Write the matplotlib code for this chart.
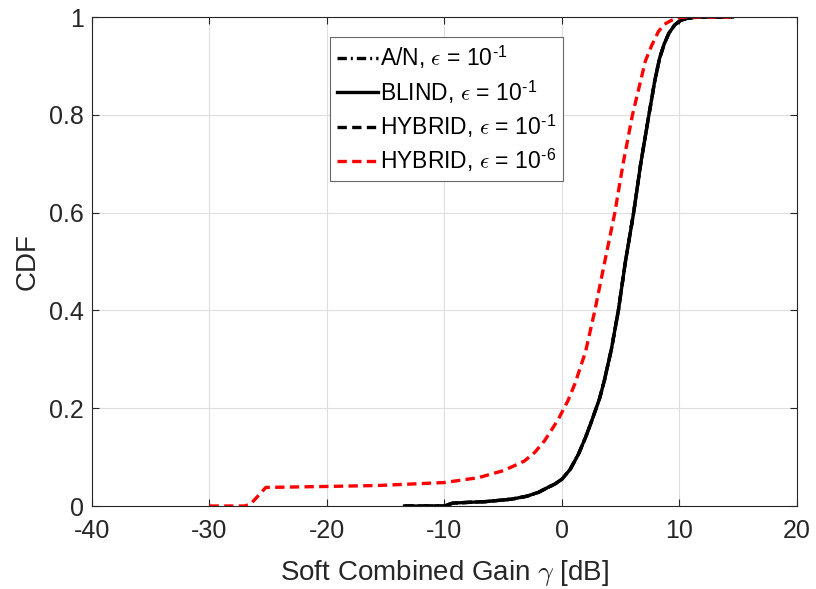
import matplotlib
matplotlib.use("Agg")
import matplotlib.pyplot as plt
import numpy as np

# CDF points (gain in dB, CDF value)
an_x    = [-13.4, -10.0, -9.3, -6.5, -4.3, -3.0, -2.0, -1.2, -0.6, 0.0, 0.7, 1.4, 2.0, 2.5, 3.2, 3.6, 4.2, 4.8, 5.4, 6.1, 6.7, 7.4, 7.9, 8.3, 8.7, 9.1, 9.6, 10.1, 10.6, 11.2, 12.0, 14.5]
an_cdf  = [0.0, 0.0, 0.006, 0.009, 0.014, 0.020, 0.028, 0.038, 0.045, 0.055, 0.075, 0.106, 0.14, 0.172, 0.22, 0.256, 0.32, 0.40, 0.50, 0.60, 0.70, 0.80, 0.87, 0.915, 0.945, 0.967, 0.984, 0.993, 0.997, 0.999, 1.0, 1.0]
blind_x   = list(an_x)
blind_cdf = list(an_cdf)
hyb1_x    = list(an_x)
hyb1_cdf  = list(an_cdf)

hyb6_x   = [-30.0, -27.0, -26.5, -25.2, -20.0, -15.6, -10.0, -7.1, -4.9, -3.2, -2.3, -1.5, -0.9, -0.3, 0.5, 1.1, 2.0, 2.8, 3.6, 4.5, 5.2, 6.0, 6.6, 7.1, 7.6, 8.2, 8.7, 9.3, 9.8, 10.5, 14.5]
hyb6_cdf = [0.0, 0.0, 0.004, 0.038, 0.040, 0.042, 0.048, 0.058, 0.073, 0.092, 0.11, 0.133, 0.155, 0.178, 0.215, 0.25, 0.315, 0.40, 0.495, 0.60, 0.70, 0.80, 0.86, 0.91, 0.94, 0.97, 0.985, 0.993, 0.998, 1.0, 1.0]

xticks = [-40, -30, -20, -10, 0, 10, 20]
yticks = [0, 0.2, 0.4, 0.6, 0.8, 1]

plt.rcParams['font.family'] = ['Liberation Sans', 'DejaVu Sans']
plt.rcParams['mathtext.fontset'] = 'custom'
plt.rcParams['mathtext.rm'] = 'Liberation Sans'
plt.rcParams['mathtext.it'] = 'cmmi10'
plt.rcParams['mathtext.fallback'] = 'cm'
plt.rcParams['axes.unicode_minus'] = False
txt = (0.15, 0.15, 0.15)

fig = plt.figure(figsize=(8.16, 5.89), dpi=100)
ax = fig.add_axes([0.1127, 0.1409, 0.8640, 0.8302])

lw = 2.4
ax.plot(an_x, an_cdf, color='k', lw=lw, ls=(0, (2.8, 1.2, 0.6, 1.2)), label=r'A/N, $\epsilon$ = 10$^{\text{-1}}$')
ax.plot(hyb1_x, hyb1_cdf, color='k', lw=lw, ls=(0, (2.8, 1.6)), label=r'HYBRID, $\epsilon$ = 10$^{\text{-1}}$')
ax.plot(blind_x, blind_cdf, color='k', lw=lw, ls='-', label=r'BLIND, $\epsilon$ = 10$^{\text{-1}}$')
ax.plot(hyb6_x, hyb6_cdf, color='r', lw=lw, ls=(0, (2.8, 1.6)), label=r'HYBRID, $\epsilon$ = 10$^{\text{-6}}$')

ax.set_xlim(-40, 20)
ax.set_ylim(0, 1)
ax.set_xticks(xticks)
ax.set_yticks(yticks)
ax.set_yticklabels(['0', '0.2', '0.4', '0.6', '0.8', '1'])
ax.grid(True, color=(0.87, 0.87, 0.87), lw=0.8)
ax.set_axisbelow(True)
ax.tick_params(direction='in', top=True, right=True, length=5, width=0.8,
               colors=txt, labelsize=18)
ax.tick_params(axis='x', pad=9)
ax.tick_params(axis='y', pad=6)
for s in ax.spines.values():
    s.set_color(txt)
    s.set_linewidth(0.8)

ax.set_xlabel(r'Soft Combined Gain $\gamma$ [dB]', fontsize=20, color=txt, labelpad=11)
ax.set_ylabel('CDF', fontsize=20, color=txt, labelpad=6)

h, l = ax.get_legend_handles_labels()
order = [0, 2, 1, 3]
leg = ax.legend([h[i] for i in order], [l[i] for i in order], loc='upper center',
                bbox_to_anchor=(0.503, 0.96), fontsize=16.5, frameon=True, fancybox=False,
                edgecolor=(0.4, 0.4, 0.4), framealpha=1, handlelength=1.8,
                handletextpad=0.1, borderpad=0.3, labelspacing=0.28, borderaxespad=0)
leg.get_frame().set_linewidth(0.8)

fig.savefig('out.png', dpi=100)
